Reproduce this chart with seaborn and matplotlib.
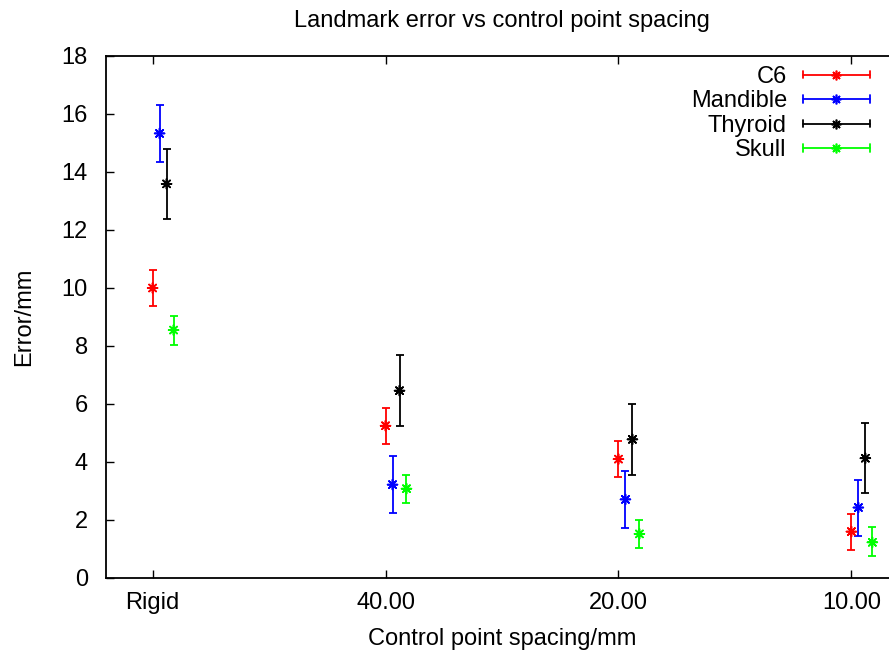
import numpy as np
import pandas as pd
import matplotlib
matplotlib.use("Agg")
import matplotlib.pyplot as plt
import seaborn as sns
from matplotlib.legend_handler import HandlerBase
from matplotlib.lines import Line2D

# ---- data ----
categories = ["Rigid", "40.00", "20.00", "10.00"]
series = ["C6", "Mandible", "Thyroid", "Skull"]

c6_mean = [10.00, 5.25, 4.10, 1.60]
c6_lo = [9.39, 4.62, 3.48, 0.97]
c6_hi = [10.62, 5.85, 4.72, 2.21]

mand_mean = [15.33, 3.22, 2.71, 2.43]
mand_lo = [14.36, 2.24, 1.72, 1.44]
mand_hi = [16.31, 4.20, 3.69, 3.38]

thy_mean = [13.59, 6.46, 4.78, 4.13]
thy_lo = [12.38, 5.23, 3.54, 2.92]
thy_hi = [14.80, 7.68, 5.99, 5.33]

sk_mean = [8.55, 3.08, 1.52, 1.23]
sk_lo = [8.03, 2.59, 1.03, 0.77]
sk_hi = [9.02, 3.56, 2.01, 1.75]

yticks = [0, 2, 4, 6, 8, 10, 12, 14, 16, 18]

# ---- styling ----
colors = {"C6": "#ff0000", "Mandible": "#0000ff", "Thyroid": "#000000", "Skull": "#00ff00"}
offsets = {"C6": 0.0, "Mandible": 0.03, "Thyroid": 0.06, "Skull": 0.09}
STAR = (8, 2, 0)
FS = 17

sns.set_style("ticks")
plt.rcParams['font.family'] = ['Liberation Sans', 'DejaVu Sans']
plt.rcParams['text.color'] = 'black'
plt.rcParams['axes.labelcolor'] = 'black'
plt.rcParams['xtick.color'] = 'black'
plt.rcParams['ytick.color'] = 'black'

rows = []
for name, m, lo, hi in zip(series,
                           [c6_mean, mand_mean, thy_mean, sk_mean],
                           [c6_lo, mand_lo, thy_lo, sk_lo],
                           [c6_hi, mand_hi, thy_hi, sk_hi]):
    for ci, cat in enumerate(categories):
        rows.append(dict(series=name, cat=cat, xpos=ci + offsets[name],
                         mean=m[ci], lo=lo[ci], hi=hi[ci]))
df = pd.DataFrame(rows)

fig = plt.figure(figsize=(8.89, 6.55), dpi=100)
ax = fig.add_axes([106 / 889, 77 / 655, 792 / 889, 522 / 655])

for name in series:
    g = df[df.series == name]
    ax.errorbar(g.xpos, g["mean"], yerr=[g["mean"] - g.lo, g.hi - g["mean"]],
                fmt="none", ecolor=colors[name], elinewidth=1.3,
                capsize=3, capthick=1.3, zorder=2)

sns.scatterplot(data=df, x="xpos", y="mean", hue="series", palette=colors,
                marker=STAR, s=50, linewidth=1.2, legend=False, ax=ax, zorder=3)


class GnuHandler(HandlerBase):
    def create_artists(self, legend, orig_handle, xdescent, ydescent,
                       width, height, fontsize, trans):
        c = orig_handle.get_color()
        y = height / 2 - ydescent
        x0 = -xdescent
        x1 = -xdescent + width
        cap = 2.7
        arts = [Line2D([x0, x1], [y, y], color=c, lw=1.3, transform=trans)]
        for x in (x0, x1):
            arts.append(Line2D([x, x], [y - cap, y + cap], color=c, lw=1.3, transform=trans))
        arts.append(Line2D([(x0 + x1) / 2], [y], marker=STAR, ms=7, mew=1.2,
                           color=c, ls="none", transform=trans))
        return arts


handles = [Line2D([], [], color=colors[n], label=n) for n in series]
ax.legend(handles=handles, handler_map={Line2D: GnuHandler()},
          loc="upper right", bbox_to_anchor=((870 - 106) / 792, 1 - (66 - 56) / 522),
          frameon=False, markerfirst=False, fontsize=FS, handlelength=2.84,
          handletextpad=0.68, labelspacing=0.105, borderpad=0, borderaxespad=0)

ax.set_xlim(-0.2, 3.2)
ax.set_ylim(0, 18)
ax.set_xticks(range(len(categories)))
ax.set_xticklabels(categories)
ax.set_yticks(yticks)
ax.tick_params(direction="in", length=6, width=1, top=True, right=True, labelsize=FS)
ax.tick_params(axis="y", pad=13)
ax.tick_params(axis="x", pad=10)
for sp in ax.spines.values():
    sp.set_visible(True)
    sp.set_linewidth(1.3)
    sp.set_color("black")

ax.set_xlabel("Control point spacing/mm", fontsize=FS, labelpad=10)
ax.set_ylabel("Error/mm", fontsize=FS, labelpad=19)
ax.set_title("Landmark error vs control point spacing", fontsize=FS, pad=21)

fig.savefig("out.png", dpi=100)
